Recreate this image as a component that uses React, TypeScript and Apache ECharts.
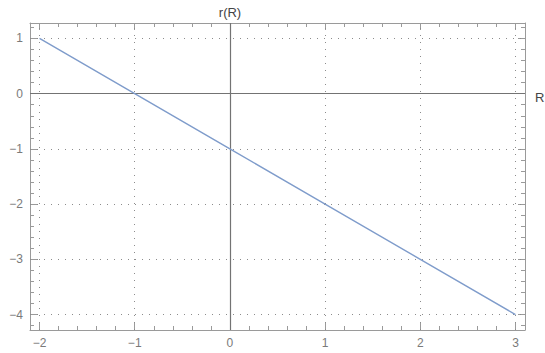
import React, { useEffect, useRef } from "react";
import * as echarts from "echarts";

const R_VALUES = [-2, -1, 0, 1, 2, 3];
const r_VALUES = [1, 0, -1, -2, -3, -4];

const X_MAJOR = [-2, -1, 0, 1, 2, 3];
const X_MINOR = [
  -1.8, -1.6, -1.4, -1.2, -0.8, -0.6, -0.4, -0.2, 0.2, 0.4, 0.6, 0.8, 1.2, 1.4, 1.6, 1.8,
  2.2, 2.4, 2.6, 2.8,
];
const Y_MAJOR = [-4, -3, -2, -1, 0, 1];
const Y_MINOR = [
  -4.2, -3.8, -3.6, -3.4, -3.2, -2.8, -2.6, -2.4, -2.2, -1.8, -1.6, -1.4, -1.2, -0.8, -0.6,
  -0.4, -0.2, 0.2, 0.4, 0.6, 0.8, 1.2,
];
const X_GRID = [-2, -1, 1, 2, 3];
const Y_GRID = [-4, -3, -2, -1, 1];
const X_RANGE = [-2.1, 3.1];
const Y_RANGE = [-4.28, 1.28];

const FRAME = "#9a9a9a";
const LABEL = "#7a7a7a";
const FONT = "Liberation Sans, Arial, sans-serif";

const fmt = (v: number) => (v < 0 ? "\u2212" + Math.abs(v) : String(v));

function xAx(position: string, values: number[], len: number, labels: boolean, line: boolean) {
  return {
    type: "value",
    position,
    min: X_RANGE[0],
    max: X_RANGE[1],
    axisLine: { show: line, onZero: false, lineStyle: { color: FRAME, width: 1 } },
    axisTick: { show: true, inside: true, length: len, customValues: values, lineStyle: { color: FRAME } },
    axisLabel: labels
      ? { show: true, customValues: values, color: LABEL, fontSize: 12, fontFamily: FONT, margin: 7, formatter: fmt }
      : { show: false },
    splitLine: { show: false },
  };
}

function yAx(position: string, values: number[], len: number, labels: boolean, line: boolean) {
  return {
    type: "value",
    position,
    min: Y_RANGE[0],
    max: Y_RANGE[1],
    axisLine: { show: line, onZero: false, lineStyle: { color: FRAME, width: 1 } },
    axisTick: { show: true, inside: true, length: len, customValues: values, lineStyle: { color: FRAME } },
    axisLabel: labels
      ? { show: true, customValues: values, color: LABEL, fontSize: 12, fontFamily: FONT, margin: 7, formatter: fmt }
      : { show: false },
    splitLine: { show: false },
  };
}

export default function App() {
  const ref = useRef<HTMLDivElement>(null);
  useEffect(() => {
    if (!ref.current) return;
    const chart = echarts.init(ref.current, null, { renderer: "svg" });
    const dotted = { type: [1, 6], color: "#8c8c8c", width: 1 };
    const solid = { type: "solid", color: "#737373", width: 1.2 };
    chart.setOption({
      animation: false,
      grid: { left: 30, right: 20, top: 23, bottom: 23, show: false },
      xAxis: [
        xAx("bottom", X_MAJOR, 7, true, true),
        xAx("bottom", X_MINOR, 4, false, false),
        xAx("top", X_MAJOR, 7, false, true),
        xAx("top", X_MINOR, 4, false, false),
      ],
      yAxis: [
        yAx("left", Y_MAJOR, 7, true, true),
        yAx("left", Y_MINOR, 4, false, false),
        yAx("right", Y_MAJOR, 7, false, true),
        yAx("right", Y_MINOR, 4, false, false),
      ],
      graphic: [
        {
          type: "text",
          x: 230,
          y: 12,
          style: {
            text: "r(R)",
            fill: "#444",
            font: "13px " + FONT,
            align: "center",
            verticalAlign: "middle",
          },
        },
        {
          type: "text",
          x: 535,
          y: 97,
          style: {
            text: "R",
            fill: "#444",
            font: "13px " + FONT,
            align: "left",
            verticalAlign: "middle",
          },
        },
      ],
      series: [
        {
          type: "line",
          xAxisIndex: 0,
          yAxisIndex: 0,
          data: R_VALUES.map((x, i) => [x, r_VALUES[i]]),
          showSymbol: false,
          symbol: "none",
          lineStyle: { color: "#7f9ccb", width: 1.4 },
          z: 5,
          markLine: {
            silent: true,
            symbol: "none",
            label: { show: false },
            animation: false,
            data: [
              ...X_GRID.map((v) => ({ xAxis: v, lineStyle: dotted })),
              ...Y_GRID.map((v) => ({ yAxis: v, lineStyle: dotted })),
              { xAxis: 0, lineStyle: solid },
              { yAxis: 0, lineStyle: solid },
            ],
          },
        },
      ],
    });
    return () => chart.dispose();
  }, []);
  return (
    <div
      ref={ref}
      style={{ position: "absolute", left: 0, top: 0, width: 545, height: 353, background: "#fff" }}
    />
  );
}
